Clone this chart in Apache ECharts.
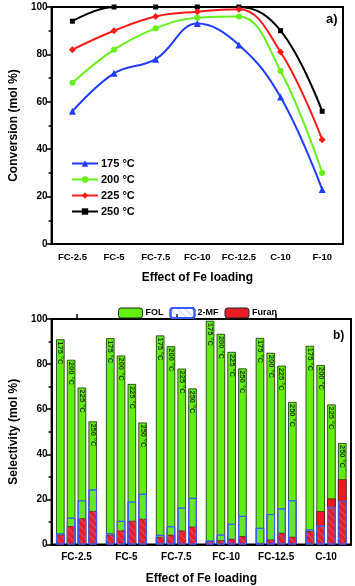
<!DOCTYPE html>
<html>
<head>
<meta charset="utf-8">
<script src="https://cdn.jsdelivr.net/npm/echarts@6/dist/echarts.min.js"></script>
<style>
  html, body { margin: 0; padding: 0; background: #fff; }
  #main { width: 355px; height: 586px; }
</style>
</head>
<body>
<div id="main"></div>
<script>
// top panel (a): conversion vs catalyst
var convCats = ['FC-2.5', 'FC-5', 'FC-7.5', 'FC-10', 'FC-12.5', 'C-10', 'F-10']
var temps = ['175 °C', '200 °C', '225 °C', '250 °C']
var conv175 = [56, 72, 78, 93, 84, 62, 23]
var conv200 = [68, 82, 91, 95.5, 96, 73, 30]
var conv225 = [82, 90, 96, 98, 99, 81, 44]
var conv250 = [94, 100, 100, 100, 100, 90, 56]

// bottom panel (b): selectivity, one value per catalyst for each temperature
var selCats = ['FC-2.5', 'FC-5', 'FC-7.5', 'FC-10', 'FC-12.5', 'C-10']
var fol175 = [91, 91.5, 92.7, 99.2, 91.6, 88.1]
var fol200 = [81.9, 83.8, 87.9, 93.4, 85, 79.6]
var fol225 = [69.6, 71.2, 78, 85.4, 79.3, 62.1]
var fol250 = [54.6, 54.1, 69.2, 78.1, 63.2, 45]
var mf175 = [4.9, 5, 4.3, 1.8, 7.4, 6.7]
var mf200 = [11.9, 10.5, 8.1, 4.4, 13.5, 8.4]
var mf225 = [19.6, 19, 16.3, 9.2, 16, 16.7]
var mf250 = [24.4, 22.5, 20.7, 12.7, 19.6, 19.3]
var furan175 = [4.4, 4.3, 3.4, 1.5, 0.7, 5.9]
var furan200 = [8.1, 6.2, 4.3, 1.9, 2.2, 14.8]
var furan225 = [11.6, 10.5, 6.2, 2.5, 5.2, 20.4]
var furan250 = [14.8, 11.4, 7.9, 3.7, 3.4, 28.9]

var FONT = '"Liberation Sans", Arial, sans-serif'
var lineColors = ['#1f3cff', '#66f01a', '#ff1a1a', '#000000']
var lineSymbols = ['triangle', 'circle', 'diamond', 'rect']
var lineSizes = [7, 6, 7, 5]
var convData = [conv175, conv200, conv225, conv250]
var folData = [fol175, fol200, fol225, fol250]
var mfData = [mf175, mf200, mf225, mf250]
var furanData = [furan175, furan200, furan225, furan250]

var hatch = {
  symbol: 'rect',
  symbolSize: 1,
  dashArrayX: [1, 0],
  dashArrayY: [1, 4],
  rotation: Math.PI / 4,
  color: 'rgba(140,160,255,0.45)',
  backgroundColor: 'rgba(0,0,0,0)'
}

function yAxisOf (grid, title) {
  return {
    type: 'value',
    gridIndex: grid,
    min: 0,
    max: 100,
    interval: 20,
    name: title,
    nameLocation: 'middle',
    nameGap: 31,
    nameTextStyle: { fontFamily: FONT, fontWeight: 'bold', fontSize: 12, color: '#000' },
    axisLine: { show: true, lineStyle: { color: '#000', width: 2 } },
    axisTick: { show: true, inside: false, length: 5, lineStyle: { width: 1.5 } },
    minorTick: { show: true, splitNumber: 2, length: 3, lineStyle: { color: '#000', width: 1.5 } },
    splitLine: { show: false },
    axisLabel: { fontFamily: FONT, fontWeight: 'bold', fontSize: 10, color: '#000', margin: 4 }
  }
}

var series = []
convData.forEach(function (d, i) {
  series.push({
    name: temps[i],
    type: 'line',
    xAxisIndex: 0,
    yAxisIndex: 0,
    data: d,
    smooth: 0.4,
    symbol: lineSymbols[i],
    symbolSize: lineSizes[i],
    lineStyle: { color: lineColors[i], width: 2 },
    itemStyle: { color: lineColors[i] },
    z: 10 - i
  })
})
folData.forEach(function (d, i) {
  series.push({
    name: 'FOL',
    type: 'bar',
    xAxisIndex: 1,
    yAxisIndex: 1,
    data: d,
    barWidth: 8.5,
    barGap: '27%',
    itemStyle: { color: '#63ee12', borderColor: '#1a2a10', borderWidth: 0.8 },
    label: {
      show: true,
      position: 'insideTop',
      distance: 2,
      rotate: -90,
      align: 'left',
      verticalAlign: 'middle',
      formatter: function () { return temps[i] },
      fontFamily: FONT,
      fontWeight: 'bold',
      fontSize: 7.5,
      color: '#1d3a08'
    }
  })
})
furanData.forEach(function (d, i) {
  series.push({
    name: 'Furan',
    type: 'bar',
    xAxisIndex: 3,
    yAxisIndex: 1,
    data: d,
    barWidth: 8.5,
    barGap: '27%',
    itemStyle: { color: '#ec1c24', borderColor: '#3a0a0a', borderWidth: 0.6 }
  })
})
mfData.forEach(function (d, i) {
  series.push({
    name: '2-MF',
    type: 'bar',
    xAxisIndex: 2,
    yAxisIndex: 1,
    data: d,
    barWidth: 8.5,
    barGap: '27%',
    itemStyle: { color: 'rgba(255,255,255,0)', borderColor: '#3d5cff', borderWidth: 1, decal: hatch }
  })
})

var option = {
  animation: false,
  backgroundColor: '#fff',
  textStyle: { fontFamily: FONT },
  title: [
    { text: 'a)', left: 321, top: 8, textStyle: { fontFamily: FONT, fontWeight: 'bold', fontSize: 13, color: '#000' } },
    { text: 'b)', left: 328, top: 325, textStyle: { fontFamily: FONT, fontWeight: 'bold', fontSize: 12, color: '#000' } }
  ],
  legend: [
    {
      data: temps,
      orient: 'vertical',
      left: 66,
      top: 153,
      itemWidth: 26,
      itemHeight: 8,
      itemGap: 5,
      textStyle: { fontFamily: FONT, fontWeight: 'bold', fontSize: 11, color: '#000', padding: [0, 0, 0, -2] }
    },
    {
      data: [
        { name: 'FOL', itemStyle: { borderColor: '#222', borderWidth: 1 } },
        { name: '2-MF' },
        { name: 'Furan', itemStyle: { borderColor: '#222', borderWidth: 1 } }
      ],
      left: 113,
      top: 302,
      itemWidth: 24,
      itemHeight: 10,
      itemGap: 6,
      textStyle: { fontFamily: FONT, fontWeight: 'bold', fontSize: 9, color: '#000', padding: [0, 0, 0, -2] }
    }
  ],
  grid: [
    { left: 47, right: 12, top: 7, height: 237, show: true, borderColor: '#000', borderWidth: 2 },
    { left: 45, right: 4, top: 319, height: 225.5, show: true, borderColor: '#000', borderWidth: 2 }
  ],
  xAxis: [
    {
      type: 'category',
      gridIndex: 0,
      data: convCats,
      name: 'Effect of Fe loading',
      nameLocation: 'middle',
      nameGap: 28,
      nameTextStyle: { fontFamily: FONT, fontWeight: 'bold', fontSize: 12, color: '#000' },
      axisLine: { lineStyle: { color: '#000', width: 2 } },
      axisTick: { length: 4, lineStyle: { width: 1.5 } },
      axisLabel: { fontFamily: FONT, fontWeight: 'bold', fontSize: 9.5, color: '#000', margin: 8, interval: 0 }
    },
    {
      type: 'category',
      gridIndex: 1,
      data: selCats,
      name: 'Effect of Fe loading',
      nameLocation: 'middle',
      nameGap: 28,
      nameTextStyle: { fontFamily: FONT, fontWeight: 'bold', fontSize: 12, color: '#000' },
      axisLine: { lineStyle: { color: '#000', width: 2 } },
      axisTick: { length: 3, lineStyle: { width: 1.5 } },
      axisLabel: { fontFamily: FONT, fontWeight: 'bold', fontSize: 10, color: '#000', margin: 8, interval: 0 }
    },
    {
      type: 'category',
      gridIndex: 1,
      data: selCats,
      axisLine: { show: false },
      axisTick: { show: true, alignWithLabel: true, length: 5, lineStyle: { color: '#000', width: 1.5 } },
      axisLabel: { show: false }
    },
    {
      type: 'category',
      gridIndex: 1,
      data: selCats,
      show: false
    }
  ],
  yAxis: [
    yAxisOf(0, 'Conversion (mol %)'),
    yAxisOf(1, 'Selectivity (mol %)')
  ],
  series: series
}

echarts.init(document.getElementById('main')).setOption(option)
</script>
</body>
</html>
